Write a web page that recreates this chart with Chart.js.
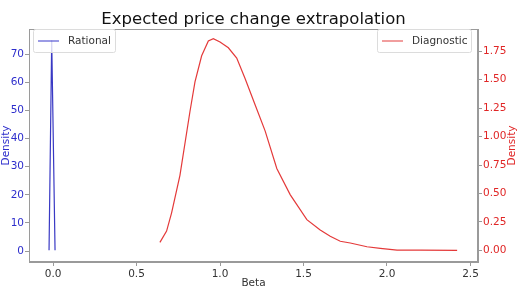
<!DOCTYPE html>
<html>
<head>
<meta charset="utf-8">
<script src="https://cdn.jsdelivr.net/npm/chart.js@4/dist/chart.umd.min.js"></script>
<style>
  html, body { margin: 0; padding: 0; background: #fff; }
  #wrap { width: 518px; height: 296px; position: relative; }
</style>
</head>
<body>
<div id="wrap"><canvas id="kde"></canvas></div>
<script>
// rational beta density (very narrow spike around zero)
const rationalBeta = [-0.024, -0.008, 0.012]
const rationalDensity = [0.3, 75, 0.3]

// diagnostic beta density
const diagBeta = [0.64, 0.68, 0.71, 0.76, 0.82, 0.85, 0.89, 0.93, 0.96, 1.0, 1.05, 1.10, 1.15, 1.21, 1.27, 1.34, 1.42, 1.52, 1.60, 1.66, 1.72, 1.78, 1.88, 1.96, 2.06, 2.2, 2.42]
const diagDensity = [0.07, 0.17, 0.33, 0.66, 1.22, 1.48, 1.71, 1.84, 1.86, 1.83, 1.78, 1.69, 1.51, 1.28, 1.05, 0.72, 0.49, 0.27, 0.18, 0.125, 0.08, 0.065, 0.032, 0.018, 0.003, 0.002, 0.0]

const xTicks = [0.0, 0.5, 1.0, 1.5, 2.0, 2.5]
const leftTicks = [0, 10, 20, 30, 40, 50, 60, 70]
const rightTicks = [0, 0.25, 0.5, 0.75, 1.0, 1.25, 1.5, 1.75]

const blue = '#2d2dcc'
const red = '#e02626'
const spine = '#9a9a9a'
const font = 'DejaVu Sans'

const pairs = (xs, ys) => xs.map((x, i) => ({x: x, y: ys[i]}))
const fixTicks = vals => scale => { scale.ticks = vals.map(v => ({value: v})) }

// matplotlib-like boxed legends, closed frame, right axis label read bottom-up
const frameAndLegends = {
  id: 'frameAndLegends',
  afterDraw(chart) {
    const ctx = chart.ctx
    const a = chart.chartArea
    ctx.save()
    ctx.strokeStyle = spine
    ctx.lineWidth = 1
    ctx.strokeRect(a.left + 0.5, a.top + 0.5, a.right - a.left - 1, a.bottom - a.top - 1)

    const box = (x, y, w, label, color) => {
      ctx.fillStyle = 'rgba(255,255,255,0.8)'
      ctx.strokeStyle = '#dcdcdc'
      ctx.lineWidth = 1
      ctx.beginPath()
      ctx.roundRect(x + 0.5, y + 0.5, w, 23, 2)
      ctx.fill()
      ctx.stroke()
      ctx.strokeStyle = color
      ctx.lineWidth = 1.2
      ctx.beginPath()
      ctx.moveTo(x + 5, y + 12)
      ctx.lineTo(x + 26, y + 12)
      ctx.stroke()
      ctx.fillStyle = '#333'
      ctx.font = '10.5px "' + font + '"'
      ctx.textBaseline = 'middle'
      ctx.fillText(label, x + 35, y + 12)
    }
    box(33, 29, 82, 'Rational', 'rgba(45,45,200,0.8)')
    box(377, 29, 94, 'Diagnostic', 'rgba(224,40,40,0.75)')

    ctx.translate(512, (a.top + a.bottom) / 2)
    ctx.rotate(-Math.PI / 2)
    ctx.fillStyle = red
    ctx.textAlign = 'center'
    ctx.textBaseline = 'middle'
    ctx.fillText('Density', 0, 0)
    ctx.restore()
  }
}

new Chart(document.getElementById('kde'), {
  type: 'line',
  data: {
    datasets: [{
      label: 'Rational',
      data: pairs(rationalBeta, rationalDensity),
      borderColor: 'rgba(35,35,190,0.9)',
      borderWidth: 1.2,
      pointRadius: 0,
      tension: 0,
      yAxisID: 'y'
    }, {
      label: 'Diagnostic',
      data: pairs(diagBeta, diagDensity),
      borderColor: 'rgba(225,35,35,0.9)',
      borderWidth: 1.2,
      pointRadius: 0,
      tension: 0,
      yAxisID: 'y1'
    }]
  },
  options: {
    responsive: true,
    maintainAspectRatio: false,
    animation: false,
    layout: { padding: 0 },
    plugins: {
      legend: { display: false },
      tooltip: { enabled: false },
      title: {
        display: true,
        fullSize: false,
        text: 'Expected price change extrapolation',
        color: '#111',
        font: { family: font, size: 16.5, weight: 'normal', lineHeight: 1 },
        padding: { top: 11, bottom: 1.5 }
      }
    },
    scales: {
      x: {
        type: 'linear',
        min: -0.144,
        max: 2.545,
        afterBuildTicks: fixTicks(xTicks),
        afterFit(scale) { scale.height = 34 },
        grid: { drawOnChartArea: false, tickLength: 4, color: spine },
        border: { color: spine },
        ticks: {
          color: '#333',
          padding: 2,
          maxRotation: 0,
          font: { family: font, size: 10.5 },
          callback: v => v.toFixed(1)
        },
        title: {
          display: true,
          text: 'Beta',
          color: '#333',
          font: { family: font, size: 10.5 },
          padding: { top: 0, bottom: 6 }
        }
      },
      y: {
        type: 'linear',
        position: 'left',
        min: -3.9,
        max: 79,
        afterBuildTicks: fixTicks(leftTicks),
        afterFit(scale) { scale.width = 29 },
        grid: { drawOnChartArea: false, tickLength: 4, color: spine },
        border: { color: spine },
        ticks: {
          color: blue,
          padding: 1,
          font: { family: font, size: 10.5 }
        },
        title: {
          display: true,
          text: 'Density',
          color: blue,
          font: { family: font, size: 10.5 },
          padding: 0
        }
      },
      y1: {
        type: 'linear',
        position: 'right',
        min: -0.102,
        max: 1.945,
        afterBuildTicks: fixTicks(rightTicks),
        afterFit(scale) { scale.width = 40 },
        grid: { drawOnChartArea: false, tickLength: 4, color: spine },
        border: { color: spine },
        ticks: {
          color: red,
          padding: 1,
          font: { family: font, size: 10.5 },
          callback: v => v.toFixed(2)
        }
      }
    }
  },
  plugins: [frameAndLegends]
})
</script>
</body>
</html>
